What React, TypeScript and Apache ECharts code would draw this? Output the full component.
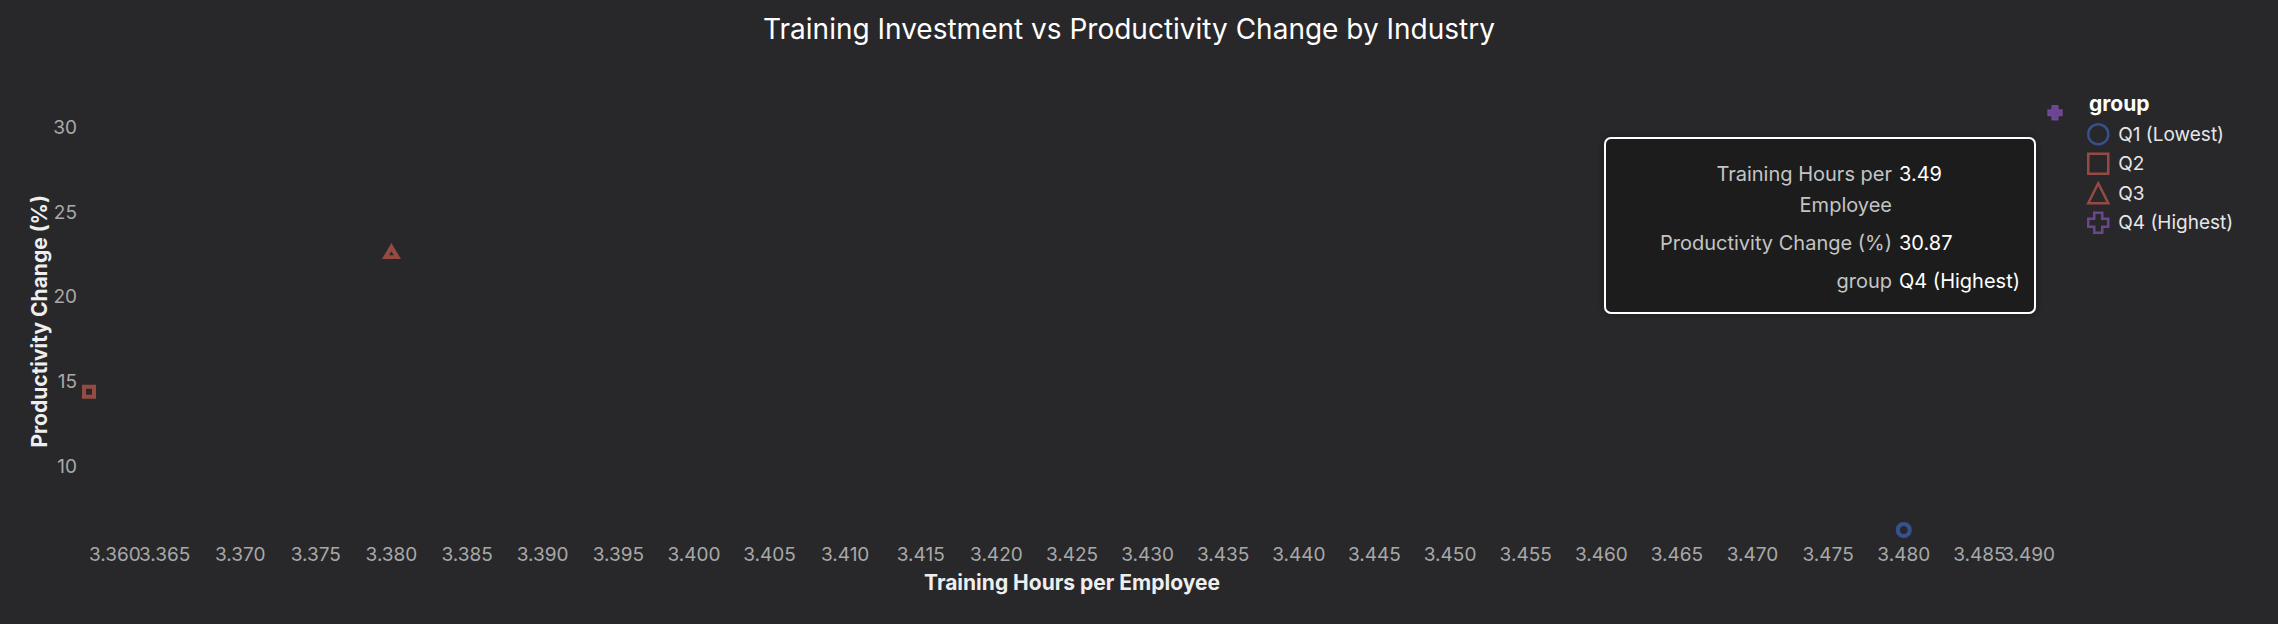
import * as echarts from "echarts"
import { useEffect, useRef } from "react"

// Average training hours vs productivity change, one point per quartile group.
const groups = ["Q1 (Lowest)", "Q2", "Q3", "Q4 (Highest)"]
const trainingHours = [3.48, 3.36, 3.38, 3.49]
const productivityChange = [6.25, 14.41, 22.64, 30.87]
const xTickMin = 3.36
const xTickMax = 3.49
const xTickStep = 0.005

// hovered point shown in the reference (Q4)
const hoveredIndex = 3

const CROSS = "path://M-2.5,-1H-1V-2.5H1V-1H2.5V1H1V2.5H-1V1H-2.5Z"
const palette = ["#3b5aa8", "#b0524a", "#b0524a", "#7c4caa"]
const shapes = ["circle", "rect", "triangle", CROSS]
const sizes: (number | number[])[] = [12, 10, [12, 10], 11]

const FONT = "Inter, 'Noto Sans', sans-serif"
const BG = "#28282b"

const isEdge = (v: number) => Math.abs(v - xTickMin) < 1e-9 || Math.abs(v - xTickMax) < 1e-9

export default function App() {
  const ref = useRef<HTMLDivElement>(null)

  useEffect(() => {
    document.body.style.margin = "0"
    if (!ref.current) return
    const chart = echarts.init(ref.current, undefined, { renderer: "svg" })

    const tipKeys = ["Training Hours per\nEmployee", "Productivity Change (%)", "group"]
    const tipVals = [
      trainingHours[hoveredIndex].toFixed(2),
      productivityChange[hoveredIndex].toFixed(2),
      groups[hoveredIndex],
    ]
    const tipX = 1892
    const tipRowsY = [169, 238, 276]

    const xLabel = {
      color: "#a8a8a8",
      fontSize: 19,
      margin: 15,
      hideOverlap: false,
    }
    const xBase = {
      type: "value",
      min: xTickMin,
      max: xTickMax,
      interval: xTickStep,
      position: "bottom",
      splitLine: { show: false },
      axisLine: { show: false },
      axisTick: { show: false },
    }

    chart.setOption({
      animation: false,
      backgroundColor: BG,
      textStyle: { fontFamily: FONT },
      title: {
        text: "Training Investment vs Productivity Change by Industry",
        left: 1124,
        top: 10,
        textAlign: "center",
        textStyle: { color: "#ffffff", fontSize: 28, fontWeight: "normal", fontFamily: FONT },
      },
      grid: { left: 89, right: 223, top: 112.7, bottom: 94 },
      legend: {
        orient: "vertical",
        left: 2082,
        top: 118,
        itemWidth: 20,
        itemHeight: 20,
        itemGap: 7,
        selectedMode: false,
        textStyle: { color: "#e6e6e6", fontSize: 19, fontFamily: FONT, padding: [0, 0, 0, 5] },
        data: groups.map((g, i) => ({
          name: g,
          icon: shapes[i],
          itemStyle: { color: "transparent", borderColor: palette[i], borderWidth: 2.5 },
        })),
      },
      xAxis: [
        {
          ...xBase,
          name: "Training Hours per Employee",
          nameLocation: "middle",
          nameGap: 42,
          nameMoveOverlap: false,
          nameTextStyle: { color: "#eeeeee", fontSize: 21, fontWeight: "bold", fontFamily: FONT },
          axisLabel: {
            ...xLabel,
            showMinLabel: false,
            showMaxLabel: false,
            formatter: (v: number) => v.toFixed(3),
          },
        },
        {
          // flush end labels (3.360 left-aligned, 3.490 right-aligned)
          ...xBase,
          axisLabel: {
            ...xLabel,
            showMinLabel: true,
            showMaxLabel: true,
            alignMinLabel: "left",
            alignMaxLabel: "right",
            formatter: (v: number) => (isEdge(v) ? v.toFixed(3) : ""),
          },
        },
      ],
      yAxis: {
        type: "value",
        name: "Productivity Change (%)",
        nameLocation: "middle",
        nameGap: 39,
        nameMoveOverlap: false,
        nameTextStyle: { color: "#eeeeee", fontSize: 21, fontWeight: "bold", fontFamily: FONT },
        min: Math.min(...productivityChange),
        max: Math.max(...productivityChange),
        splitNumber: 5,
        splitLine: { show: false },
        axisLine: { show: false },
        axisTick: { show: false },
        axisLabel: {
          color: "#a8a8a8",
          fontSize: 19,
          margin: 12,
          showMinLabel: false,
          showMaxLabel: false,
        },
      },
      series: groups.map((g, i) => ({
        name: g,
        type: "scatter",
        xAxisIndex: 0,
        symbol: shapes[i],
        symbolSize: i === hoveredIndex ? 14 : sizes[i],
        data: [[trainingHours[i], productivityChange[i]]],
        itemStyle:
          i === hoveredIndex
            ? { color: palette[i], borderColor: palette[i], borderWidth: 1.5 }
            : { color: "transparent", borderColor: palette[i], borderWidth: 4 },
        emphasis: { disabled: true },
      })),
      graphic: [
        {
          type: "text",
          left: 2089,
          top: 93,
          style: { text: "group", fill: "#ffffff", fontSize: 21, fontWeight: "bold", fontFamily: FONT },
        },
        {
          type: "group",
          children: [
            {
              type: "rect",
              shape: { x: 1605, y: 138, width: 430, height: 175, r: 6 },
              style: {
                fill: "#1f1f1f",
                stroke: "#ffffff",
                lineWidth: 2,
                shadowBlur: 8,
                shadowColor: "rgba(0,0,0,0.35)",
              },
            },
            ...tipKeys.map((k, i) => ({
              type: "text",
              x: tipX,
              y: tipRowsY[i] - 11,
              style: {
                text: k,
                align: "right",
                verticalAlign: "top",
                lineHeight: 31,
                fill: "#c4c4c4",
                fontSize: 20,
                fontFamily: FONT,
              },
            })),
            ...tipVals.map((v, i) => ({
              type: "text",
              x: tipX + 7,
              y: tipRowsY[i] - 11,
              style: {
                text: v,
                align: "left",
                verticalAlign: "top",
                lineHeight: 31,
                fill: "#ffffff",
                fontSize: 20,
                fontFamily: FONT,
              },
            })),
          ],
        },
      ],
    })

    return () => chart.dispose()
  }, [])

  return <div ref={ref} style={{ width: 2278, height: 624 }} />
}
